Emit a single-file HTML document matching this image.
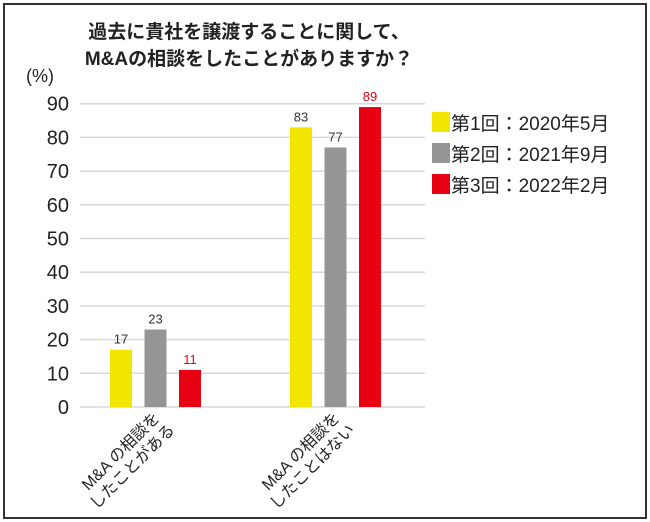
<!DOCTYPE html>
<html><head><meta charset="utf-8"><style>
body{margin:0;width:650px;height:522px;background:#fff;overflow:hidden;font-family:"Liberation Sans","Noto Sans CJK JP",sans-serif}
#frame{position:absolute;left:3px;top:3px;width:640px;height:512px;border:2px solid #333;box-sizing:content-box}
</style></head><body>
<div id="frame"></div>
<svg width="650" height="522" style="position:absolute;left:0;top:0">
<g id="g"></g>
</svg>
<script>
const categories=["M&A の相談を|したことがある","M&A の相談を|したことはない"];
const series1=[17,83];
const series2=[23,77];
const series3=[11,89];
const seriesNames=["第1回：2020年5月","第2回：2021年9月","第3回：2022年2月"];
const ticks=[0,10,20,30,40,50,60,70,80,90];
const colors=["#f2e600","#959595","#e60012"];
const labelColors=["#333","#333","#e60012"];
const g=document.getElementById('g');
const NS='http://www.w3.org/2000/svg';
function el(t,a,txt){const e=document.createElementNS(NS,t);for(const k in a)e.setAttribute(k,a[k]);if(txt!=null)e.textContent=txt;g.appendChild(e);return e;}
const y=v=>407-v*3.37;
const groupX=[110,290];
const barW=22,step=34.5;
let t=el('text',{x:249,y:38,'text-anchor':'middle','font-size':19,'font-weight':'bold',fill:'#222'},'過去に貴社を譲渡することに関して、');


t=el('text',{x:249,y:65,'text-anchor':'middle','font-size':19,'font-weight':'bold',fill:'#222'},'M&Aの相談をしたことがありますか？');


t=el('text',{x:40,y:82,'text-anchor':'middle','font-size':18,fill:'#222'},'(%)');


ticks.forEach(v=>{
 const l=el('line',{x1:80,x2:425,y1:y(v),y2:y(v),stroke:'#d9d9d9','stroke-width':1.5});
 
 
 const tx=el('text',{x:69,y:y(v)+7,'text-anchor':'end','font-size':20,fill:'#222'},String(v));
 
 
});
const all=[series1,series2,series3];
categories.forEach((c,i)=>{
 all.forEach((s,j)=>{
  const x=groupX[i]+j*step;
  const r=el('rect',{x:x,y:y(s[i]),width:barW,height:y(0)-y(s[i]),fill:colors[j]});
  
  
  const lb=el('text',{x:x+barW/2,y:y(s[i])-6,'text-anchor':'middle','font-size':13,fill:labelColors[j]},String(s[i]));
  
  
 });
 const cx=groupX[i]+barW/2+step+8;
 const parts=c.split('|');
 const tx=el('text',{transform:`translate(${cx},416) rotate(-45)`,'text-anchor':'end','font-size':16,fill:'#222'});
 
 
 parts.forEach((p,k)=>{const ts=document.createElementNS(NS,'tspan');ts.setAttribute('x',k?-2:-4);ts.setAttribute('dy',k?19:0);ts.textContent=p;tx.appendChild(ts);});
});
seriesNames.forEach((n,j)=>{
 const yy=112+j*31;
 const r=el('rect',{x:432,y:yy,width:18,height:20,fill:colors[j]});
 
 
 const tx=el('text',{x:451,y:yy+18,'font-size':19,fill:'#222'},n);
 
 
});
</script>
</body></html>
